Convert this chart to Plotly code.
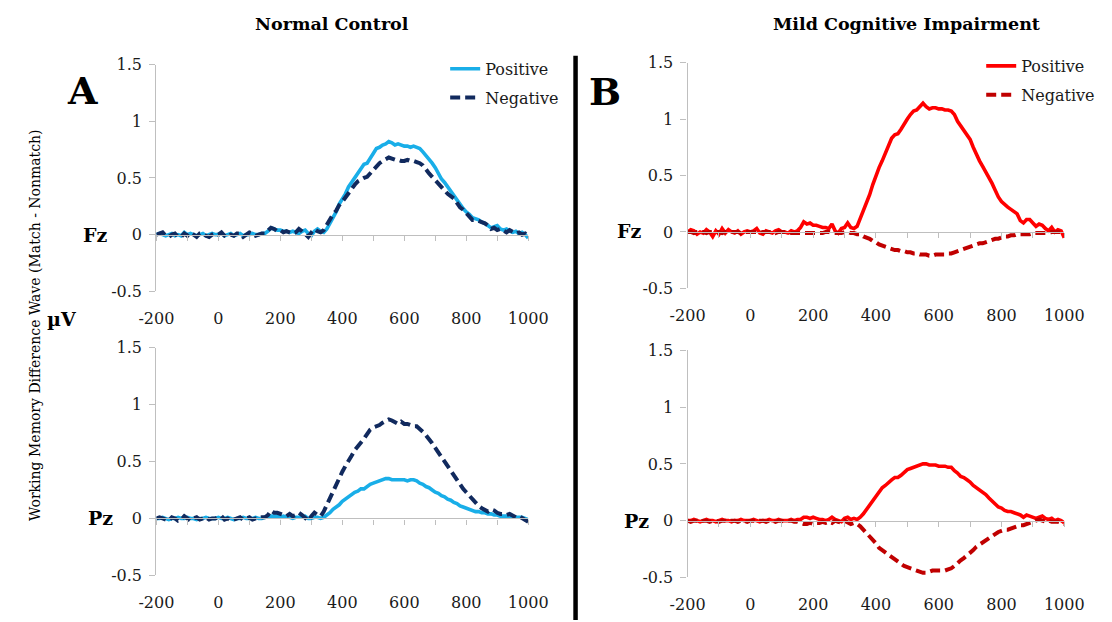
import plotly.graph_objects as go

# ---------------- data (µV, sampled every 10 ms from -200 to 1000 ms) ----------------
time_ms = list(range(-200, 1001, 10))

nc_fz_positive = [
    0.00, 0.01, 0.00, -0.01, 0.00, 0.01, -0.01, 0.00, -0.01, 0.02,
    0.00, 0.01, 0.00, -0.01, 0.00, 0.01, -0.01, 0.00, 0.01, 0.00,
    0.00, 0.01, -0.01, 0.00, 0.01, -0.01, 0.00, 0.01, -0.01, 0.00,
    0.00, 0.01, 0.00, 0.00, 0.01, 0.01, 0.03, 0.06, 0.05, 0.04,
    0.04, 0.03, 0.03, 0.02, 0.03, 0.02, 0.01, 0.03, 0.04, 0.01,
    -0.01, 0.03, 0.05, 0.03, 0.02, 0.05, 0.10, 0.16, 0.20, 0.27,
    0.31, 0.36, 0.42, 0.46, 0.50, 0.54, 0.59, 0.62, 0.63, 0.67,
    0.72, 0.76, 0.77, 0.79, 0.80, 0.82, 0.81, 0.79, 0.80, 0.79,
    0.78, 0.78, 0.77, 0.78, 0.77, 0.76, 0.73, 0.70, 0.67, 0.63,
    0.59, 0.54, 0.49, 0.46, 0.42, 0.38, 0.35, 0.31, 0.27, 0.23,
    0.20, 0.18, 0.15, 0.14, 0.13, 0.11, 0.10, 0.08, 0.06, 0.07,
    0.08, 0.05, 0.04, 0.05, 0.03, 0.02, 0.03, 0.01, 0.02, 0.00,
    -0.03,
]
nc_fz_negative = [
    0.00, 0.01, 0.02, -0.01, -0.02, 0.00, 0.01, -0.02, -0.02, 0.01,
    -0.01, 0.02, 0.00, -0.02, 0.01, 0.01, -0.01, -0.02, 0.00, 0.01,
    0.00, 0.02, -0.01, -0.02, 0.00, -0.01, 0.01, 0.01, -0.02, 0.00,
    0.02, 0.01, -0.01, 0.00, 0.01, 0.01, 0.03, 0.06, 0.05, 0.03,
    0.04, 0.02, 0.03, 0.02, 0.01, 0.02, 0.05, 0.03, 0.00, -0.02,
    0.02, 0.05, 0.03, 0.02, 0.04, 0.09, 0.14, 0.18, 0.21, 0.26,
    0.29, 0.33, 0.36, 0.40, 0.44, 0.47, 0.49, 0.50, 0.51, 0.54,
    0.58, 0.60, 0.63, 0.65, 0.67, 0.68, 0.67, 0.66, 0.66, 0.65,
    0.65, 0.66, 0.65, 0.65, 0.64, 0.63, 0.61, 0.57, 0.54, 0.51,
    0.48, 0.44, 0.41, 0.38, 0.36, 0.34, 0.32, 0.28, 0.24, 0.22,
    0.19, 0.16, 0.13, 0.13, 0.12, 0.11, 0.10, 0.08, 0.05, 0.06,
    0.04, 0.05, 0.03, 0.02, 0.04, 0.02, 0.01, 0.02, 0.00, 0.01,
    -0.02,
]
nc_pz_positive = [
    0.00, 0.00, 0.01, 0.00, -0.01, 0.00, 0.00, 0.01, 0.00, 0.00,
    0.01, 0.00, 0.00, -0.01, 0.00, 0.00, 0.01, 0.00, 0.00, 0.00,
    0.01, 0.00, 0.00, 0.01, 0.00, -0.01, 0.00, 0.00, 0.01, 0.00,
    0.00, 0.00, 0.01, 0.00, 0.00, 0.01, 0.01, 0.02, 0.02, 0.02,
    0.01, 0.02, 0.01, 0.01, 0.00, 0.01, 0.01, 0.01, 0.02, 0.00,
    0.00, 0.01, 0.01, 0.00, 0.01, 0.03, 0.05, 0.08, 0.10, 0.12,
    0.15, 0.17, 0.19, 0.21, 0.23, 0.24, 0.26, 0.26, 0.28, 0.30,
    0.31, 0.32, 0.33, 0.34, 0.35, 0.35, 0.34, 0.34, 0.34, 0.34,
    0.34, 0.33, 0.34, 0.34, 0.33, 0.31, 0.30, 0.28, 0.27, 0.25,
    0.23, 0.22, 0.20, 0.19, 0.17, 0.16, 0.14, 0.13, 0.11, 0.10,
    0.09, 0.08, 0.07, 0.06, 0.06, 0.05, 0.05, 0.04, 0.04, 0.03,
    0.03, 0.02, 0.02, 0.02, 0.01, 0.01, 0.01, 0.01, 0.01, 0.00,
    -0.01,
]
nc_pz_negative = [
    0.00, 0.01, 0.00, -0.01, -0.02, 0.01, 0.00, -0.02, -0.01, 0.02,
    0.00, -0.02, 0.00, 0.01, -0.01, 0.00, 0.01, -0.01, 0.00, 0.00,
    0.01, 0.02, -0.01, 0.00, -0.02, -0.01, 0.00, 0.01, -0.01, 0.00,
    0.01, -0.01, 0.00, 0.00, 0.01, 0.01, 0.03, 0.07, 0.05, 0.05,
    0.04, 0.03, 0.02, 0.04, 0.02, 0.03, 0.05, 0.03, 0.01, -0.02,
    0.02, 0.05, 0.03, 0.02, 0.06, 0.12, 0.18, 0.24, 0.30, 0.37,
    0.41, 0.46, 0.50, 0.55, 0.60, 0.63, 0.66, 0.70, 0.74, 0.78,
    0.80, 0.81, 0.82, 0.84, 0.86, 0.87, 0.86, 0.84, 0.83, 0.85,
    0.83, 0.83, 0.82, 0.81, 0.81, 0.79, 0.76, 0.73, 0.70, 0.66,
    0.62, 0.58, 0.53, 0.49, 0.45, 0.42, 0.38, 0.33, 0.30, 0.26,
    0.23, 0.20, 0.16, 0.14, 0.11, 0.09, 0.07, 0.06, 0.08, 0.07,
    0.05, 0.04, 0.04, 0.03, 0.04, 0.02, 0.01, 0.02, 0.00, -0.01,
    -0.03,
]
mci_fz_positive = [
    0.00, 0.02, 0.01, -0.02, 0.00, -0.01, 0.02, 0.00, -0.04, 0.01,
    -0.02, 0.03, -0.01, 0.02, 0.00, -0.01, 0.01, -0.02, 0.00, 0.01,
    0.00, 0.01, 0.03, -0.01, -0.02, 0.01, 0.00, -0.01, 0.01, 0.02,
    0.00, 0.00, -0.01, 0.01, 0.00, 0.01, 0.04, 0.09, 0.07, 0.08,
    0.06, 0.06, 0.05, 0.04, 0.04, 0.03, 0.07, 0.01, -0.01, 0.03,
    0.04, 0.08, 0.04, 0.03, 0.05, 0.12, 0.20, 0.25, 0.33, 0.42,
    0.50, 0.57, 0.63, 0.70, 0.76, 0.83, 0.86, 0.87, 0.91, 0.96,
    1.00, 1.04, 1.07, 1.08, 1.11, 1.14, 1.11, 1.09, 1.10, 1.10,
    1.09, 1.09, 1.08, 1.08, 1.07, 1.04, 0.98, 0.94, 0.90, 0.87,
    0.82, 0.75, 0.68, 0.63, 0.58, 0.53, 0.49, 0.43, 0.37, 0.31,
    0.27, 0.24, 0.22, 0.20, 0.18, 0.16, 0.10, 0.08, 0.11, 0.11,
    0.08, 0.05, 0.07, 0.06, 0.03, 0.01, 0.04, 0.00, 0.02, 0.01,
    -0.05,
]
mci_fz_negative = [
    0.00, 0.00, -0.01, 0.00, 0.00, 0.00, -0.01, 0.00, 0.00, 0.00,
    0.00, -0.01, 0.00, 0.00, 0.00, 0.00, 0.00, -0.01, 0.00, 0.00,
    0.00, 0.00, 0.00, -0.01, 0.00, 0.00, 0.00, 0.00, -0.01, 0.00,
    0.00, 0.00, 0.00, -0.01, -0.01, -0.01, -0.01, -0.01, -0.01, -0.01,
    -0.01, -0.01, -0.01, -0.01, 0.00, 0.00, -0.01, -0.01, -0.01, -0.01,
    0.00, 0.00, -0.01, -0.01, -0.02, -0.02, -0.04, -0.05, -0.06, -0.08,
    -0.09, -0.11, -0.12, -0.13, -0.14, -0.15, -0.16, -0.16, -0.17, -0.17,
    -0.18, -0.18, -0.19, -0.19, -0.20, -0.20, -0.20, -0.21, -0.21, -0.20,
    -0.20, -0.20, -0.20, -0.19, -0.19, -0.18, -0.17, -0.16, -0.15, -0.14,
    -0.13, -0.12, -0.11, -0.10, -0.10, -0.09, -0.08, -0.07, -0.06, -0.06,
    -0.05, -0.04, -0.04, -0.03, -0.03, -0.02, -0.02, -0.02, -0.02, -0.02,
    -0.01, -0.01, -0.01, -0.01, -0.01, -0.01, 0.00, 0.00, 0.00, 0.00,
    0.00,
]
mci_pz_positive = [
    0.00, 0.00, 0.01, 0.00, -0.01, 0.00, 0.01, 0.00, 0.00, -0.01,
    0.00, 0.01, 0.00, 0.00, -0.01, 0.00, 0.00, 0.01, 0.00, 0.00,
    0.00, 0.01, 0.00, -0.01, 0.00, 0.00, 0.01, 0.00, 0.00, 0.01,
    0.00, 0.00, 0.00, 0.01, 0.00, 0.01, 0.01, 0.03, 0.03, 0.02,
    0.03, 0.02, 0.01, 0.01, 0.00, 0.01, 0.03, 0.01, 0.00, -0.01,
    0.02, 0.03, 0.01, 0.02, 0.01, 0.03, 0.06, 0.10, 0.13, 0.18,
    0.22, 0.26, 0.29, 0.31, 0.34, 0.36, 0.38, 0.38, 0.40, 0.43,
    0.45, 0.46, 0.47, 0.48, 0.49, 0.50, 0.50, 0.49, 0.49, 0.49,
    0.48, 0.48, 0.48, 0.47, 0.47, 0.44, 0.42, 0.39, 0.38, 0.36,
    0.34, 0.31, 0.29, 0.27, 0.25, 0.23, 0.20, 0.17, 0.15, 0.12,
    0.11, 0.09, 0.08, 0.08, 0.07, 0.06, 0.05, 0.03, 0.05, 0.04,
    0.03, 0.02, 0.03, 0.04, 0.02, 0.01, 0.02, 0.00, 0.01, 0.00,
    -0.02,
]
mci_pz_negative = [
    0.00, -0.01, 0.00, 0.00, -0.01, 0.00, 0.00, -0.01, 0.00, 0.00,
    -0.01, 0.00, 0.00, -0.01, 0.00, 0.00, -0.01, 0.00, 0.00, -0.01,
    0.00, 0.00, -0.01, 0.00, 0.00, -0.01, 0.00, 0.00, -0.01, 0.00,
    0.00, -0.01, 0.00, 0.00, -0.01, -0.01, -0.02, -0.03, -0.03, -0.02,
    -0.03, -0.02, -0.02, -0.01, -0.02, -0.01, -0.02, 0.00, -0.01, -0.02,
    0.00, -0.02, -0.03, -0.02, -0.03, -0.05, -0.08, -0.10, -0.13, -0.17,
    -0.20, -0.24, -0.26, -0.29, -0.31, -0.32, -0.34, -0.36, -0.38, -0.40,
    -0.41, -0.42, -0.43, -0.44, -0.45, -0.46, -0.46, -0.45, -0.44, -0.44,
    -0.44, -0.44, -0.44, -0.43, -0.42, -0.40, -0.37, -0.35, -0.33, -0.31,
    -0.28, -0.26, -0.23, -0.21, -0.19, -0.17, -0.16, -0.14, -0.12, -0.10,
    -0.09, -0.08, -0.08, -0.07, -0.06, -0.05, -0.04, -0.04, -0.03, -0.02,
    -0.01, 0.00, 0.01, 0.00, -0.01, 0.00, -0.01, -0.01, -0.01, -0.02,
    -0.03,
]

x_tick_values = [-200, 0, 200, 400, 600, 800, 1000]
x_tick_labels = ["-200", "0", "200", "400", "600", "800", "1000"]
y_tick_values = [-0.5, 0, 0.5, 1, 1.5]
y_tick_labels = ["-0.5", "0", "0.5", "1", "1.5"]
series_names = ["Positive", "Negative"]
group_titles = ["Normal Control", "Mild Cognitive Impairment"]
electrodes = ["Fz", "Pz"]

# ---------------- styling ----------------
W, H = 1112, 622
OFF = 8  # the page body adds an 8px margin; compensate so screen positions match
SERIF = "DejaVu Serif"
AXIS_GREY = "#BFBFBF"
TEXT_COL = "#1a1a1a"
NC_POS, NC_NEG = "#19AEE8", "#112A5E"
MCI_POS, MCI_NEG = "#FF0000", "#C00000"


def fx(p):
    return (p - OFF) / W


def fy(p):
    return 1 - (p - OFF) / H


# screen-pixel boxes of the four plot areas: (left, right), (top, bottom)
boxes = {
    1: ((143, 528), (57, 291)),   # NC Fz
    2: ((693, 1083), (55, 288)),  # MCI Fz
    3: ((143, 528), (349, 584)),  # NC Pz
    4: ((693, 1083), (352, 586)), # MCI Pz
}

fig = go.Figure()

panel_series = {
    1: [(nc_fz_positive, NC_POS, "solid", "legend", True),
        (nc_fz_negative, NC_NEG, "dash", "legend", True)],
    2: [(mci_fz_positive, MCI_POS, "solid", "legend2", True),
        (mci_fz_negative, MCI_NEG, "dash", "legend2", True)],
    3: [(nc_pz_positive, NC_POS, "solid", "legend", False),
        (nc_pz_negative, NC_NEG, "dash", "legend", False)],
    4: [(mci_pz_positive, MCI_POS, "solid", "legend2", False),
        (mci_pz_negative, MCI_NEG, "dash", "legend2", False)],
}

for k, series in panel_series.items():
    xa = "x" if k == 1 else f"x{k}"
    ya = "y" if k == 1 else f"y{k}"
    for (vals, col, dash, leg, show), name in zip(series, series_names):
        fig.add_trace(go.Scatter(
            x=time_ms, y=vals, mode="lines", name=name,
            line=dict(color=col, width=3.6 if dash == "solid" else 4.0,
                      dash="solid" if dash == "solid" else "10px,5px"),
            xaxis=xa, yaxis=ya, legend=leg, showlegend=show,
            legendgroup=f"{leg}-{name}",
            hoverinfo="skip",
        ))

layout_axes = {}
for k, ((l, r), (t, b)) in boxes.items():
    ydom = [fy(b), fy(t)]
    zero_pos = ydom[0] + 0.25 * (ydom[1] - ydom[0])
    xkey = "xaxis" if k == 1 else f"xaxis{k}"
    ykey = "yaxis" if k == 1 else f"yaxis{k}"
    xa = "x" if k == 1 else f"x{k}"
    layout_axes[xkey] = dict(
        domain=[fx(l), fx(r)], range=[-200, 1000], anchor="free", position=zero_pos,
        showline=True, linecolor=AXIS_GREY, linewidth=1.3,
        tickmode="array", tickvals=x_tick_values, ticktext=x_tick_labels,
        ticks="outside", ticklen=5, tickwidth=1.3, tickcolor=AXIS_GREY,
        minor=dict(dtick=100, tick0=-200, ticks="outside", ticklen=5,
                   tickwidth=1.3, tickcolor=AXIS_GREY, showgrid=False),
        showgrid=False, zeroline=False, ticklabelstandoff=64,
        tickfont=dict(family=SERIF, size=16, color=TEXT_COL),
    )
    layout_axes[ykey] = dict(
        domain=ydom, range=[-0.5, 1.5], anchor=xa,
        showline=True, linecolor=AXIS_GREY, linewidth=1.3,
        tickmode="array", tickvals=y_tick_values, ticktext=y_tick_labels,
        ticks="outside", ticklen=6, tickwidth=1.3, tickcolor=AXIS_GREY,
        showgrid=False, zeroline=False, ticklabelstandoff=4,
        tickfont=dict(family=SERIF, size=16, color=TEXT_COL),
    )


def ann(text, x, y, size, bold=True, angle=0):
    return dict(text=f"<b>{text}</b>" if bold else text, x=fx(x), y=fy(y),
                xref="paper", yref="paper", xanchor="center", yanchor="middle",
                showarrow=False, textangle=angle,
                font=dict(family=SERIF, size=size, color="#000000"))


annotations = [
    ann(group_titles[0], 325, 15, 17.5),
    ann(group_titles[1], 920, 15, 17.5),
    ann("A", 67, 84, 38),
    ann("B", 607, 85, 38),
    ann(electrodes[0], 79, 233, 19),
    ann(electrodes[0], 632, 229, 19),
    ann(electrodes[1], 85, 525, 19),
    ann(electrodes[1], 640, 528, 19),
    ann("µV", 45, 320, 19),
    ann("Working Memory Difference Wave (Match - Nonmatch)", 18, 326, 14,
        bold=False, angle=-90),
]

legend_common = dict(
    font=dict(family=SERIF, size=16, color=TEXT_COL),
    bgcolor="rgba(0,0,0,0)", borderwidth=0, xanchor="left", yanchor="top",
    tracegroupgap=5, itemwidth=30,
)

fig.update_layout(
    width=W, height=H, autosize=False,
    margin=dict(l=0, r=0, t=0, b=0),
    paper_bgcolor="white", plot_bgcolor="rgba(0,0,0,0)",
    annotations=annotations,
    legend=dict(x=fx(442), y=fy(44), **legend_common),
    legend2=dict(x=fx(997), y=fy(41), **legend_common),
    shapes=[dict(type="line", xref="paper", yref="paper",
                 x0=fx(577), x1=fx(577), y0=fy(48), y1=0,
                 line=dict(color="black", width=4.5))],
    **layout_axes,
)

fig.write_html("out.html")
